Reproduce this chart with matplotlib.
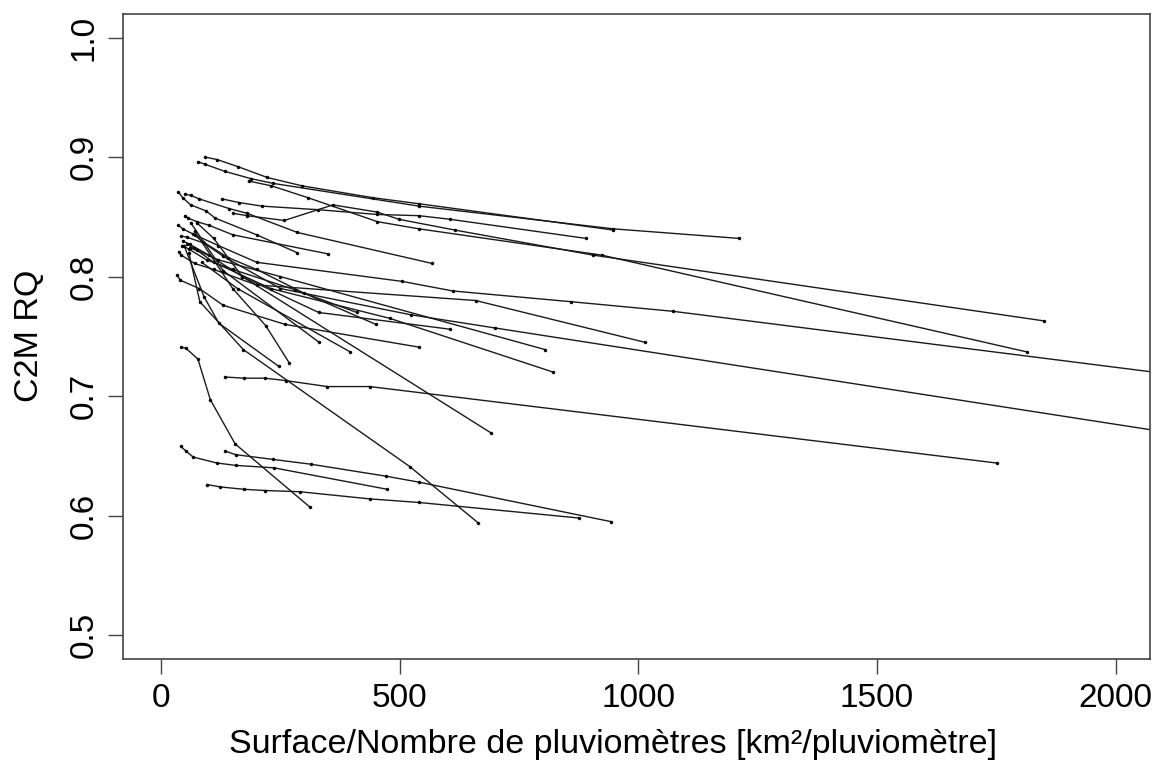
import matplotlib
matplotlib.use("Agg")
import matplotlib.pyplot as plt

plt.rcParams['font.family'] = ['Liberation Sans', 'DejaVu Sans']

# Each catchment: (surface per gauge [km2/gauge], C2M RQ) as gauges are removed
top_1 = [(92, 0.900), (117, 0.898), (161, 0.892), (222, 0.883), (295, 0.876), (444, 0.866), (540, 0.861), (947, 0.839)]
top_2 = [(78, 0.896), (92, 0.894), (134, 0.888), (188, 0.882), (235, 0.878), (540, 0.859), (947, 0.840), (1210, 0.832)]
top_3 = [(183, 0.880), (231, 0.876), (308, 0.866), (453, 0.846), (540, 0.840), (923, 0.818), (1814, 0.737)]
top_4 = [(128, 0.865), (163, 0.862), (211, 0.859), (329, 0.856), (453, 0.852), (540, 0.851), (605, 0.848), (890, 0.832)]
top_5 = [(151, 0.853), (180, 0.851), (258, 0.847), (360, 0.860), (453, 0.854), (498, 0.848), (615, 0.839), (905, 0.818), (1849, 0.763)]

mid_1 = [(36, 0.871), (45, 0.866), (62, 0.860), (94, 0.855), (113, 0.849), (200, 0.835), (285, 0.820)]
mid_2 = [(50, 0.869), (62, 0.868), (80, 0.865), (142, 0.857), (180, 0.853), (285, 0.837), (568, 0.811)]
mid_3 = [(50, 0.851), (56, 0.849), (75, 0.846), (100, 0.843), (150, 0.835), (350, 0.819)]
mid_4 = [(36, 0.843), (45, 0.840), (70, 0.835), (120, 0.826), (200, 0.812), (505, 0.796), (611, 0.788), (859, 0.779), (1072, 0.771), (2200, 0.714)]
mid_5 = [(42, 0.834), (54, 0.833), (90, 0.828), (130, 0.817), (250, 0.790), (524, 0.768), (700, 0.757), (2200, 0.664)]
mid_6 = [(37, 0.821), (42, 0.818), (70, 0.811), (110, 0.806), (200, 0.793), (659, 0.780), (1014, 0.745)]
mid_7 = [(34, 0.801), (40, 0.797), (80, 0.790), (130, 0.776), (260, 0.760), (540, 0.741)]
mid_8 = [(45, 0.830), (60, 0.827), (100, 0.818), (170, 0.800), (330, 0.770), (605, 0.756)]
mid_9 = [(55, 0.827), (68, 0.824), (110, 0.812), (230, 0.790), (480, 0.765), (822, 0.720)]
mid_10 = [(60, 0.824), (75, 0.822), (120, 0.814), (250, 0.800), (804, 0.739)]
mid_11 = [(44, 0.826), (58, 0.823), (95, 0.814), (150, 0.806), (280, 0.789), (410, 0.770)]
mid_12 = [(66, 0.836), (88, 0.829), (140, 0.816), (200, 0.806), (300, 0.786), (450, 0.760)]

steep_1 = [(75, 0.845), (110, 0.832), (170, 0.800), (692, 0.669)]
steep_2 = [(58, 0.820), (81, 0.779), (172, 0.739), (521, 0.641), (664, 0.594)]
steep_3 = [(48, 0.826), (90, 0.783), (121, 0.761), (246, 0.725)]
steep_4 = [(70, 0.838), (150, 0.790), (219, 0.759), (268, 0.728)]
steep_5 = [(62, 0.845), (130, 0.805), (331, 0.745)]
steep_6 = [(85, 0.812), (160, 0.790), (396, 0.737)]

flat_716 = [(133, 0.716), (174, 0.715), (218, 0.715), (261, 0.713), (348, 0.708), (437, 0.708), (1751, 0.644)]
low_741 = [(42, 0.741), (52, 0.740), (77, 0.731), (103, 0.697), (155, 0.660), (312, 0.607)]
low_658 = [(41, 0.658), (52, 0.654), (67, 0.649), (117, 0.644), (157, 0.642), (236, 0.640), (474, 0.622)]
low_654 = [(134, 0.654), (156, 0.651), (235, 0.647), (314, 0.643), (471, 0.633), (540, 0.628), (942, 0.595)]
low_626 = [(96, 0.626), (124, 0.624), (174, 0.622), (218, 0.621), (290, 0.620), (437, 0.614), (540, 0.611), (875, 0.598)]

catchments = [top_1, top_2, top_3, top_4, top_5,
              mid_1, mid_2, mid_3, mid_4, mid_5, mid_6, mid_7, mid_8, mid_9, mid_10,
              mid_11, mid_12,
              steep_1, steep_2, steep_3, steep_4, steep_5, steep_6,
              flat_716, low_741, low_658, low_654, low_626]

x_ticks = [0, 500, 1000, 1500, 2000]
y_ticks = [0.5, 0.6, 0.7, 0.8, 0.9, 1.0]

fig = plt.figure(figsize=(11.56, 7.63), dpi=100)
ax = fig.add_axes([0.1064, 0.1363, 0.8884, 0.8457])

for series in catchments:
    xs = [p[0] for p in series]
    ys = [p[1] for p in series]
    ax.plot(xs, ys, color='#1a1a1a', lw=1.0, marker='o', ms=2.2,
            markerfacecolor='black', markeredgecolor='black', markeredgewidth=0.3)

ax.set_xlim(-80, 2072)
ax.set_ylim(0.48, 1.02)
ax.set_xticks(x_ticks)
ax.set_xticklabels([str(v) for v in x_ticks])
ax.set_yticks(y_ticks)
ax.set_yticklabels([f"{v:.1f}" for v in y_ticks], rotation=90, va='center')

for s in ax.spines.values():
    s.set_color('#444444')
    s.set_linewidth(1.2)
ax.tick_params(axis='both', direction='out', length=11, width=1.0, color='#444444',
               labelsize=24, pad=6)

fig.text(0.53, 1 - 745 / 763, "Surface/Nombre de pluviomètres [km²/pluviomètre]",
         fontsize=24.5, ha='center', va='center')
fig.text(30 / 1156, 1 - 336 / 763, "C2M RQ", fontsize=24.5, rotation=90,
         ha='center', va='center')

fig.savefig("out.png", dpi=100)
